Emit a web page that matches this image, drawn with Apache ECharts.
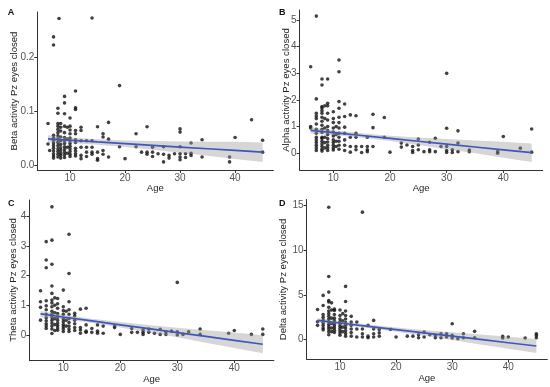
<!DOCTYPE html>
<html><head><meta charset="utf-8">
<script src="https://cdn.jsdelivr.net/npm/echarts@6/dist/echarts.min.js"></script>
<style>html,body{margin:0;padding:0;background:#fff}#c{width:550px;height:387px}</style>
</head><body><div id="c"></div>
<script>
// ---------- DATA ----------
const xTicks = [10, 20, 30, 40];
const betaTicks = [0, 0.1, 0.2];
const alphaTicks = [0, 1, 2, 3, 4, 5];
const thetaTicks = [0, 1, 2, 3, 4];
const deltaTicks = [0, 5, 10, 15];

const fitAge = [6, 10, 15, 20, 25, 30, 35, 40, 45];
const betaFit = [0.0485, 0.0460, 0.0428, 0.0397, 0.0366, 0.0334, 0.0303, 0.0272, 0.0240];
const betaLo  = [0.042, 0.041, 0.0378, 0.0337, 0.0286, 0.0229, 0.0173, 0.0112, 0.006];
const betaHi  = [0.055, 0.051, 0.0478, 0.0457, 0.0446, 0.0439, 0.0433, 0.0432, 0.042];
const alphaFit = [0.86, 0.774, 0.666, 0.558, 0.451, 0.343, 0.235, 0.128, 0.02];
const alphaLo  = [0.74, 0.684, 0.581, 0.458, 0.311, 0.153, -0.005, -0.172, -0.33];
const alphaHi  = [0.98, 0.864, 0.751, 0.658, 0.591, 0.533, 0.475, 0.428, 0.37];
const thetaFit = [0.71, 0.605, 0.475, 0.344, 0.213, 0.082, -0.048, -0.179, -0.31];
const thetaLo  = [0.61, 0.53, 0.40, 0.254, 0.093, -0.078, -0.258, -0.439, -0.61];
const thetaHi  = [0.81, 0.68, 0.55, 0.434, 0.333, 0.242, 0.162, 0.081, -0.01];
const deltaFit = [2.15, 1.858, 1.492, 1.127, 0.762, 0.396, 0.031, -0.335, -0.70];
const deltaLo  = [1.90, 1.658, 1.302, 0.897, 0.442, -0.034, -0.519, -1.005, -1.48];
const deltaHi  = [2.40, 2.058, 1.682, 1.357, 1.082, 0.826, 0.581, 0.335, 0.08];

const betaPts = [
[6,0.077],[6,0.039],[6.3,0.027],
[7,0.237],[7,0.222],[7,0.055],[7,0.05],[7,0.046],[7,0.041],[7,0.036],[7,0.031],[7,0.026],[7,0.021],[7,0.017],[7,0.013],
[7.8,0.105],[7.8,0.096],[7.8,0.077],[7.8,0.072],[7.8,0.066],[7.8,0.06],[7.8,0.054],[7.8,0.048],[7.8,0.042],[7.8,0.036],[7.8,0.03],[7.8,0.025],[7.8,0.02],[7.8,0.015],
[8,0.271],[8.3,0.077],[8.3,0.07],[8.3,0.063],[8.3,0.052],[8.3,0.045],[8.3,0.038],[8.3,0.032],[8.3,0.027],[8.3,0.022],[8.3,0.018],[8.3,0.013],
[9,0.127],[9,0.115],[9,0.095],[9,0.072],[9,0.06],[9,0.051],[9,0.045],[9,0.04],[9,0.034],[9,0.029],[9,0.024],[9,0.019],[9,0.014],
[9.5,0.07],[9.5,0.048],[9.5,0.033],[9.5,0.022],
[10,0.087],[10,0.072],[10,0.065],[10,0.058],[10,0.05],[10,0.045],[10,0.04],[10,0.035],[10,0.03],[10,0.025],[10,0.02],[10,0.016],
[11,0.137],[11,0.106],[11,0.103],[11,0.064],[11,0.058],[11,0.047],[11,0.042],[11,0.031],[11,0.026],[11,0.021],[11,0.017],
[12,0.07],[12,0.064],[12,0.045],[12,0.033],[12,0.018],[12,0.012],
[13,0.045],[13,0.033],[13,0.024],[13,0.016],
[14,0.272],[14,0.045],[14,0.033],[14,0.024],[14,0.02],
[15,0.071],[15,0.024],[15,0.012],[15,0.009],
[16,0.058],[16,0.052],[16,0.027],[16,0.02],
[17,0.079],[17,0.048],[17,0.015],
[19,0.147],[19,0.034],[20,0.012],
[22,0.058],[22,0.034],[23,0.024],[24,0.071],[24,0.024],[24,0.02],
[25,0.033],[25,0.024],[25,0.016],[26,0.021],[27,0.034],[27,0.02],[27,0.006],
[28,0.018],[28,0.013],[29,0.021],
[30,0.067],[30,0.061],[30,0.034],[30,0.021],[30,0.015],[30,0.01],
[31,0.021],[31,0.014],[32,0.041],[32,0.022],[32,0.018],
[34,0.047],[34,0.015],[39,0.015],[39,0.006],[40,0.051],[43,0.084],[45,0.046],[45,0.024]
];

const alphaPts = [
[6,3.25],[6,1.0],[6,0.95],
[7,5.15],[7,2.04],[7,1.5],[7,1.4],[7,1.3],[7,1.1],[7,0.9],[7,0.75],[7,0.6],[7,0.5],[7,0.4],[7,0.3],[7,0.2],[7,0.1],
[8,2.79],[8,2.56],[8,1.75],[8,1.7],[8,1.6],[8,1.5],[8,1.35],[8,1.2],[8,1.05],[8,0.9],[8,0.78],[8,0.6],[8,0.55],[8,0.45],[8,0.35],[8,0.25],[8,0.15],[8,0.08],
[8.5,1.78],[8.5,1.3],[8.5,0.95],[8.5,0.6],[8.5,0.4],[8.5,0.2],
[9,2.79],[9,1.88],[9,1.78],[9,1.5],[9,1.25],[9,1.0],[9,0.85],[9,0.7],[9,0.55],[9,0.42],[9,0.3],[9,0.2],[9,0.1],
[10,1.56],[10,1.3],[10,1.15],[10,0.95],[10,0.8],[10,0.65],[10,0.5],[10,0.4],[10,0.3],[10,0.2],[10,0.12],
[10.5,1.0],[10.5,0.7],[10.5,0.45],[10.5,0.25],
[11,3.5],[11,3.06],[11,1.94],[11,1.69],[11,1.35],[11,1.15],[11,0.95],[11,0.75],[11,0.6],[11,0.45],[11,0.3],[11,0.15],
[12,1.85],[12,1.38],[12,0.98],[12,0.75],[12,0.5],[12,0.3],[12,0.1],
[13,1.44],[13,0.6],[13,0.25],[13,0.04],
[14,1.41],[14,0.75],[14,0.6],[14,0.25],[14,0.13],
[15,0.25],[15,0.03],[16,0.6],[16,0.25],[16,0.13],[16,0.06],
[17,1.46],[17,0.96],[17,0.25],[19,1.34],[19,0.6],[20,0.04],
[22,0.38],[22,0.23],[23,0.31],[24,0.25],[24,0.1],[24,0.03],
[25,0.53],[25,0.31],[25,0.13],[26,0.06],[27,0.41],[27,0.13],[27,0.06],
[28,0.56],[28,0.06],[29,0.25],[30,3.0],[30,0.94],[30,0.25],[30,0.1],[30,0.03],
[31,0.13],[31,0.03],[32,0.84],[32,0.38],[32,0.06],[34,0.12],[34,0.06],
[39,0.06],[39,0.0],[40,0.63],[43,0.19],[45,0.91],[45,0.04]
];

const thetaPts = [
[6,1.49],[6,1.12],[6,0.93],[6,0.5],
[7,3.14],[7,2.52],[7,2.26],[7,1.15],[7,0.98],[7,0.85],[7,0.7],[7,0.58],[7,0.48],[7,0.38],[7,0.3],[7,0.22],
[8,4.31],[8,3.19],[8,2.38],[8,1.65],[8,1.4],[8,1.18],[8,1.08],[8,0.95],[8,0.8],[8,0.7],[8,0.6],[8,0.5],[8,0.4],[8,0.3],[8,0.2],[8,0.05],
[8.5,1.25],[8.5,1.0],[8.5,0.75],[8.5,0.55],[8.5,0.35],[8.5,0.15],
[9,1.23],[9,1.05],[9,0.9],[9,0.72],[9,0.6],[9,0.5],[9,0.4],[9,0.32],[9,0.24],[9,0.16],
[10,1.51],[10,0.95],[10,0.82],[10,0.7],[10,0.55],[10,0.45],[10,0.35],[10,0.28],[10,0.2],[10,0.12],
[10.5,0.8],[10.5,0.5],[10.5,0.3],
[11,3.39],[11,2.07],[11,1.12],[11,0.85],[11,0.7],[11,0.55],[11,0.42],[11,0.3],[11,0.2],[11,0.12],
[12,0.73],[12,0.65],[12,0.5],[12,0.38],[12,0.25],[12,0.15],
[13,0.87],[13,0.25],[13,0.17],[13,0.06],
[14,0.9],[14,0.34],[14,0.13],[14,0.09],
[15,0.22],[15,0.09],[16,0.34],[16,0.13],[16,0.06],[17,0.3],[17,0.06],
[19,0.3],[19,0.25],[20,0.02],[22,0.22],[22,0.09],[23,0.09],[24,0.17],[24,0.09],[24,0.02],
[25,0.2],[25,0.09],[26,0.06],[27,0.19],[27,0.02],[28,0.11],[28,0.02],[29,0.13],
[30,1.77],[30,0.11],[30,0.0],[31,0.02],[32,0.11],[34,0.2],[34,0.02],[39,0.06],[40,0.15],[43,0.02],[45,0.2],[45,0.02]
];

const deltaPts = [
[6,3.37],[6,2.0],[6,1.6],
[7,4.93],[7,3.8],[7,2.8],[7,2.5],[7,2.2],[7,1.9],[7,1.6],[7,1.3],[7,1.1],
[8,14.74],[8,7.04],[8,5.3],[8,4.37],[8,4.2],[8,3.6],[8,3.2],[8,2.9],[8,2.6],[8,2.3],[8,2.0],[8,1.7],[8,1.45],[8,1.2],[8,0.9],[8,0.55],
[8.5,4.1],[8.5,3.3],[8.5,2.4],[8.5,1.8],[8.5,1.3],[8.5,0.9],
[9,3.4],[9,3.26],[9,2.8],[9,2.4],[9,2.1],[9,1.8],[9,1.55],[9,1.3],[9,1.05],[9,0.8],
[10,3.3],[10,2.7],[10,2.3],[10,2.0],[10,1.75],[10,1.5],[10,1.25],[10,1.0],[10,0.75],[10,0.5],
[10.5,2.9],[10.5,2.1],[10.5,1.4],[10.5,0.9],
[11,5.93],[11,4.26],[11,3.2],[11,2.7],[11,2.3],[11,1.9],[11,1.6],[11,1.3],[11,1.0],[11,0.7],[11,0.4],
[12,2.6],[12,1.96],[12,1.6],[12,1.2],[12,0.8],[12,0.4],
[13,1.96],[13,1.2],[13,0.3],
[14,14.19],[14,1.2],[14,0.67],[14,0.3],
[15,1.6],[15,0.4],[15,0.22],
[16,2.15],[16,1.2],[16,0.67],[16,0.3],
[17,1.15],[17,0.78],[17,0.4],
[19,1.15],[20,0.3],[22,0.4],[23,0.4],[24,0.55],[24,0.22],[25,0.85],[25,0.3],[26,0.55],[27,0.48],[27,0.22],[28,0.67],[28,0.22],[29,0.67],[29,0.3],
[30,1.78],[30,0.48],[30,0.19],[31,0.11],[32,0.67],[32,0.22],[34,0.93],[34,0.22],[39,0.37],[39,0.19],[40,0.3],[43,0.19],[45,0.67],[45,0.48],[45,0.22]
];

// ---------- CHART ----------
const FONT = '"Liberation Sans", Arial, sans-serif';
const panels = [
  {label:'A', name:'Beta activity Pz eyes closed', pts:betaPts, fit:betaFit, lo:betaLo, hi:betaHi, yTicks:betaTicks,
   fmt:v=>v.toFixed(1), ymin:-0.009, ymax:0.283, grid:{left:37.3, top:12, width:236, height:158}, nameGap:17.5, xGap:13, lab:[11.7,13]},
  {label:'B', name:'Alpha activity Pz eyes closed', pts:alphaPts, fit:alphaFit, lo:alphaLo, hi:alphaHi, yTicks:alphaTicks,
   fmt:v=>String(v), ymin:-0.63, ymax:5.38, grid:{left:299.6, top:10, width:243.1, height:160}, nameGap:8.2, xGap:13, lab:[283,13]},
  {label:'C', name:'Theta activity Pz eyes closed', pts:thetaPts, fit:thetaFit, lo:thetaLo, hi:thetaHi, yTicks:thetaTicks,
   fmt:v=>String(v), ymin:-0.84, ymax:4.54, grid:{left:29.4, top:200, width:244.5, height:160}, nameGap:11.3, xGap:14, lab:[12,204]},
  {label:'D', name:'Delta activity Pz eyes closed', pts:deltaPts, fit:deltaFit, lo:deltaLo, hi:deltaHi, yTicks:deltaTicks,
   fmt:v=>String(v), ymin:-2.2, ymax:15.6, grid:{left:306.6, top:199.5, width:240.7, height:160}, nameGap:18.5, xGap:14, lab:[283,204]}
];

const grids=[], xAxes=[], yAxes=[], series=[], graphics=[];
const axisLine = {show:true, onZero:false, lineStyle:{color:'#333', width:1}};
panels.forEach((p,i)=>{
  grids.push(Object.assign({containLabel:false}, p.grid));
  xAxes.push({type:'value', gridIndex:i, min:4.05, max:46.95,
    name:'Age', nameLocation:'middle', nameGap:p.xGap, nameMoveOverlap:false,
    nameTextStyle:{fontFamily:FONT, fontSize:9.5, color:'#222'},
    axisLine, splitLine:{show:false},
    axisTick:{show:true, length:3, customValues:xTicks, lineStyle:{color:'#333'}},
    axisLabel:{customValues:xTicks, fontFamily:FONT, fontSize:10, color:'#555', margin:3}});
  yAxes.push({type:'value', gridIndex:i, min:p.ymin, max:p.ymax,
    name:p.name, nameLocation:'middle', nameGap:p.nameGap, nameRotate:90, nameMoveOverlap:false,
    nameTextStyle:{fontFamily:FONT, fontSize:9.6, color:'#222'},
    axisLine, splitLine:{show:false},
    axisTick:{show:true, length:3, customValues:p.yTicks, lineStyle:{color:'#333'}},
    axisLabel:{customValues:p.yTicks, formatter:p.fmt, fontFamily:FONT, fontSize:10, color:'#555', margin:3}});
  series.push({type:'scatter', xAxisIndex:i, yAxisIndex:i, data:p.pts, symbol:'circle', symbolSize:3.6,
    itemStyle:{color:'#111'}, z:2, silent:true});
  series.push({type:'custom', xAxisIndex:i, yAxisIndex:i, data:[[fitAge[0], p.lo[0]]], z:3, silent:true,
    renderItem:(params, api)=>{
      const pts=[];
      for(let k=0;k<fitAge.length;k++) pts.push(api.coord([fitAge[k], p.lo[k]]));
      for(let k=fitAge.length-1;k>=0;k--) pts.push(api.coord([fitAge[k], p.hi[k]]));
      return {type:'polygon', shape:{points:pts}, style:{fill:'rgba(153,153,153,0.4)'}};
    }});
  series.push({type:'line', xAxisIndex:i, yAxisIndex:i, data:fitAge.map((a,k)=>[a,p.fit[k]]),
    showSymbol:false, lineStyle:{color:'#3f57b8', width:1.7}, z:4, silent:true});
  graphics.push({type:'text', left:p.lab[0]-4, top:p.lab[1]-5,
    style:{text:p.label, font:'bold 9px '+FONT, fill:'#111'}});
});

const chart = echarts.init(document.getElementById('c'), null, {renderer:'canvas'});
chart.setOption({animation:false, backgroundColor:'#fff', grid:grids, xAxis:xAxes, yAxis:yAxes, series, graphic:graphics});
</script></body></html>
